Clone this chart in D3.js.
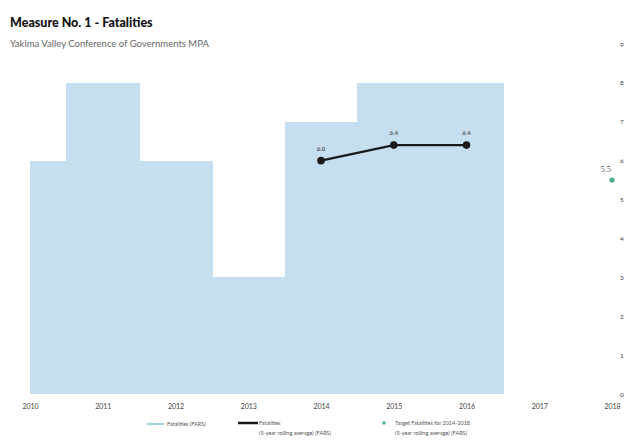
<!DOCTYPE html>
<html>
<head>
<meta charset="utf-8">
<script src="https://cdn.jsdelivr.net/npm/d3@7"></script>
<style>
  html, body { margin: 0; padding: 0; background: #fff; }
  svg { display: block; font-family: Lato, "Open Sans", sans-serif; }
</style>
</head>
<body>
<svg id="chart" width="630" height="444"></svg>
<script>
// Annual fatalities (FARS)
const years = [2010, 2011, 2012, 2013, 2014, 2015, 2016];
const fatalities = [6, 8, 6, 3, 7, 8, 8];

// 5-year rolling average
const avgYears = [2014, 2015, 2016];
const avgValues = [6.0, 6.4, 6.4];
const avgLabels = ["6.0", "6.4", "6.4"];

// Target
const targetYear = [2018];
const targetValue = [5.5];
const targetLabel = ["5.5"];

const xTicks = [2010, 2011, 2012, 2013, 2014, 2015, 2016, 2017, 2018];
const yTicks = [0, 1, 2, 3, 4, 5, 6, 7, 8, 9];

const svg = d3.select("#chart");

const x = d3.scaleLinear().domain([2010, 2018]).range([30, 612]);
const y = d3.scaleLinear().domain([0, 9]).range([394, 44]);
const step = x(2011) - x(2010);

// Title
svg.append("text").attr("x", 10).attr("y", 27)
  .attr("font-size", 12.5).attr("font-weight", 900).attr("fill", "#111")
  .text("Measure No. 1 - Fatalities");
svg.append("text").attr("x", 10).attr("y", 47)
  .attr("font-size", 9.5).attr("fill", "#666")
  .text("Yakima Valley Conference of Governments MPA");

// Bars (full-width columns, clipped to plot start)
svg.append("defs").append("clipPath").attr("id", "plot")
  .append("rect").attr("x", x(2010)).attr("y", 0).attr("width", x(2018) - x(2010)).attr("height", 444);

svg.append("g").attr("clip-path", "url(#plot)")
  .attr("shape-rendering", "crispEdges")
  .selectAll("rect").data(years).join("rect")
  .attr("x", d => Math.round(x(d) - step / 2))
  .attr("width", d => Math.round(x(d) + step / 2) - Math.round(x(d) - step / 2) + 1)
  .attr("y", (d, i) => Math.round(y(fatalities[i])))
  .attr("height", (d, i) => Math.round(y(0)) - Math.round(y(fatalities[i])))
  .attr("fill", "#c5dff0");

// X axis labels
const xAxis = d3.axisBottom(x).tickValues(xTicks).tickFormat(d3.format("d")).tickSize(0).tickPadding(0);
const gx = svg.append("g").attr("transform", `translate(0,${404})`).call(xAxis);
gx.select(".domain").remove();
gx.selectAll("text").attr("font-size", 7).attr("fill", "#444").attr("font-family", "Lato, sans-serif");

// Y axis labels (right)
const yAxis = d3.axisRight(y).tickValues(yTicks).tickSize(0).tickPadding(0);
const gy = svg.append("g").attr("transform", `translate(${620},0)`).call(yAxis);
gy.select(".domain").remove();
gy.selectAll("text").attr("font-size", 6.5).attr("fill", "#444").attr("font-family", "Lato, sans-serif");

// Rolling average line
const line = d3.line().x(d => x(d[0])).y(d => y(d[1]));
const avgPts = avgYears.map((d, i) => [d, avgValues[i]]);
svg.append("path").datum(avgPts).attr("d", line)
  .attr("fill", "none").attr("stroke", "#1a1a1a").attr("stroke-width", 2.2);
svg.selectAll("circle.avg").data(avgPts).join("circle").attr("class", "avg")
  .attr("cx", d => x(d[0])).attr("cy", d => y(d[1])).attr("r", 3.8).attr("fill", "#1a1a1a");
svg.selectAll("text.avgl").data(avgPts).join("text").attr("class", "avgl")
  .attr("x", d => x(d[0])).attr("y", d => y(d[1]) - 10)
  .attr("text-anchor", "middle").attr("font-size", 6).attr("font-weight", 700).attr("fill", "#555")
  .text((d, i) => avgLabels[i]);

// Target point
svg.selectAll("circle.tgt").data(targetYear).join("circle").attr("class", "tgt")
  .attr("cx", d => x(d)).attr("cy", (d, i) => y(targetValue[i])).attr("r", 2.6).attr("fill", "#4dae8a");
svg.selectAll("text.tgtl").data(targetYear).join("text").attr("class", "tgtl")
  .attr("x", d => x(d) - 1).attr("y", (d, i) => y(targetValue[i]) - 8)
  .attr("text-anchor", "end").attr("font-size", 8.5).attr("fill", "#555")
  .attr("font-family", "'Liberation Serif', serif")
  .text((d, i) => targetLabel[i]);

// Legend
const lg = svg.append("g").attr("font-size", 5.5).attr("fill", "#555");
lg.append("line").attr("x1", 147).attr("x2", 164).attr("y1", 424).attr("y2", 424)
  .attr("stroke", "#9fd3dc").attr("stroke-width", 2);
lg.append("text").attr("x", 167).attr("y", 426).text("Fatalities (FARS)");
lg.append("line").attr("x1", 238).attr("x2", 258).attr("y1", 423).attr("y2", 423)
  .attr("stroke", "#1a1a1a").attr("stroke-width", 2.5);
lg.append("text").attr("x", 259).attr("y", 425).text("Fatalities");
lg.append("text").attr("x", 259).attr("y", 435).text("(5-year rolling average) (FARS)");
lg.append("circle").attr("cx", 384).attr("cy", 423).attr("r", 1.8).attr("fill", "#4dae8a");
lg.append("text").attr("x", 395).attr("y", 425).text("Target Fatalities for 2014-2018");
lg.append("text").attr("x", 395).attr("y", 435).text("(5-year rolling average) (FARS)");
</script>
</body>
</html>
